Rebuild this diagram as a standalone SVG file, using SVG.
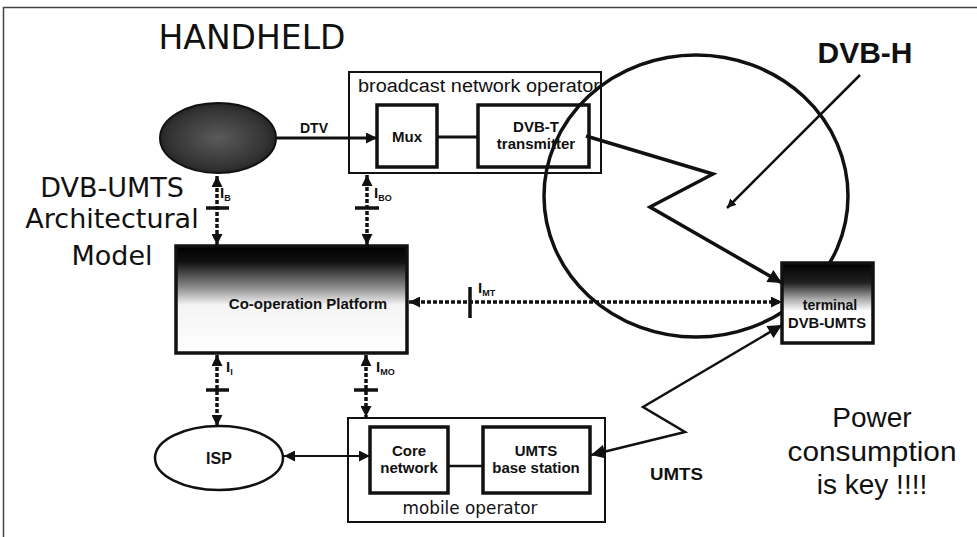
<svg xmlns="http://www.w3.org/2000/svg" width="977" height="537" viewBox="0 0 977 537">
<style>
.frame{stroke:#444;stroke-width:1.5;fill:none}
.title{font-family:"DejaVu Sans",Verdana,sans-serif;fill:#111}
.lbl{font-family:"Liberation Sans",Arial,sans-serif;font-weight:bold;fill:#111}
.reg{font-family:"Liberation Sans",Arial,sans-serif;fill:#111}
.cond{font-family:"DejaVu Sans Condensed","DejaVu Sans",sans-serif;fill:#111}
.outer{fill:#fff;stroke:#111;stroke-width:2}
.inner{fill:#fff;stroke:#111;stroke-width:3.5}
.solid{stroke:#111;fill:none;stroke-linejoin:miter}
.dash{stroke:#111;stroke-width:3.5;stroke-dasharray:4 2;fill:none}
.bar{stroke:#111;stroke-width:3.5}
.sub{font-size:9px}
</style>
<defs>
<marker id="ah" viewBox="0 0 10 10" refX="10" refY="5" markerWidth="11" markerHeight="11" markerUnits="userSpaceOnUse" orient="auto-start-reverse"><path d="M0,0 L10,5 L0,10 z" fill="#111"/></marker>
<marker id="ahL" viewBox="0 0 10 10" refX="10" refY="5" markerWidth="16" markerHeight="14" markerUnits="userSpaceOnUse" orient="auto-start-reverse"><path d="M0,0 L10,5 L0,10 z" fill="#111"/></marker>
<marker id="ahS" viewBox="0 0 10 10" refX="10" refY="5" markerWidth="9" markerHeight="9" markerUnits="userSpaceOnUse" orient="auto"><path d="M0,0 L10,5 L0,10 z" fill="#111"/></marker>
<linearGradient id="coopG" x1="0" y1="0" x2="0" y2="1">
<stop offset="0" stop-color="#000"/><stop offset="0.15" stop-color="#111"/><stop offset="0.38" stop-color="#888"/><stop offset="0.55" stop-color="#f4f4f4"/><stop offset="1" stop-color="#fff"/>
</linearGradient>
<linearGradient id="termG" x1="0" y1="0" x2="0" y2="1">
<stop offset="0" stop-color="#000"/><stop offset="0.25" stop-color="#222"/><stop offset="0.45" stop-color="#aaa"/><stop offset="0.6" stop-color="#fff"/><stop offset="1" stop-color="#fff"/>
</linearGradient>
<radialGradient id="ellG" cx="0.5" cy="0.5" r="0.6">
<stop offset="0" stop-color="#5a5a5a"/><stop offset="0.7" stop-color="#333"/><stop offset="1" stop-color="#151515"/>
</radialGradient>
</defs>
<rect width="977" height="537" fill="#fff"/>
<path class="frame" d="M3.5,537 L3.5,7.5 L977,7.5"/>

<g id="titles">
<text class="title" x="252" y="49" font-size="33" text-anchor="middle">HANDHELD</text>
<text class="title" x="112" y="197" font-size="27" text-anchor="middle">DVB-UMTS</text>
<text class="title" x="112" y="228" font-size="27" text-anchor="middle">Architectural</text>
<text class="title" x="112" y="265" font-size="27" text-anchor="middle">Model</text>
</g>

<g id="broadcast">
<rect class="outer" x="349" y="72" width="252" height="101"/>
<text class="reg" x="358" y="92" font-size="18" textLength="242" lengthAdjust="spacingAndGlyphs">broadcast network operator</text>
</g>
<g id="mux">
<rect class="inner" x="377" y="105" width="60" height="62"/>
<text class="lbl" x="407" y="142" font-size="15" text-anchor="middle">Mux</text>
</g>
<g id="dvbt">
<rect class="inner" x="478" y="105" width="111" height="62"/>
<text class="lbl" x="536" y="132" font-size="15" text-anchor="middle">DVB-T</text>
<text class="lbl" x="536" y="149" font-size="15" text-anchor="middle">transmitter</text>
</g>

<g id="mobile-operator">
<rect class="outer" x="348" y="418" width="257" height="104"/>
<text class="cond" x="470" y="514" font-size="17" text-anchor="middle" textLength="135" lengthAdjust="spacingAndGlyphs">mobile operator</text>
</g>
<g id="core">
<rect class="inner" x="370" y="427" width="78" height="66"/>
<text class="lbl" x="409" y="456" font-size="15" text-anchor="middle">Core</text>
<text class="lbl" x="409" y="473" font-size="15" text-anchor="middle">network</text>
</g>
<g id="umts-bs">
<rect class="inner" x="483" y="427" width="107" height="66"/>
<text class="lbl" x="536" y="456" font-size="15" text-anchor="middle">UMTS</text>
<text class="lbl" x="536" y="473" font-size="15" text-anchor="middle">base station</text>
</g>

<g id="content-provider">
<ellipse cx="218" cy="138" rx="58" ry="35" fill="url(#ellG)" stroke="#111" stroke-width="2"/>
</g>
<g id="isp">
<ellipse cx="219" cy="458" rx="64" ry="32" fill="#fff" stroke="#111" stroke-width="2.5"/>
<text class="lbl" x="219" y="464" font-size="16" text-anchor="middle">ISP</text>
</g>
<g id="coop">
<rect x="176" y="246" width="231" height="107" fill="url(#coopG)" stroke="#111" stroke-width="3.5"/>
<text class="lbl" x="308" y="309" font-size="15" text-anchor="middle">Co-operation Platform</text>
</g>

<g id="dvbh-coverage">
<ellipse cx="696" cy="196" rx="152" ry="141" fill="none" stroke="#111" stroke-width="3.5"/>
</g>

<g id="connectors">
<line class="solid" x1="277" y1="138" x2="377" y2="138" stroke-width="3" marker-end="url(#ah)"/>
<line class="solid" x1="437" y1="137" x2="478" y2="137" stroke-width="3"/>
<line class="dash" x1="217" y1="176" x2="217" y2="245" marker-start="url(#ah)" marker-end="url(#ah)"/>
<line class="bar" x1="206" y1="208" x2="229" y2="208"/>
<line class="dash" x1="367" y1="175" x2="367" y2="245" marker-start="url(#ah)" marker-end="url(#ah)"/>
<line class="bar" x1="355" y1="208" x2="379" y2="208"/>
<line class="dash" x1="217" y1="355" x2="217" y2="426" marker-start="url(#ah)" marker-end="url(#ah)"/>
<line class="bar" x1="206" y1="390" x2="229" y2="390"/>
<line class="dash" x1="366" y1="355" x2="366" y2="417" marker-start="url(#ah)" marker-end="url(#ah)"/>
<line class="bar" x1="354" y1="390" x2="378" y2="390"/>
<line class="dash" x1="409" y1="302" x2="782" y2="302" stroke-width="3" marker-start="url(#ah)" marker-end="url(#ah)"/>
<line class="bar" x1="470" y1="287" x2="470" y2="318"/>
<line class="solid" x1="284" y1="456" x2="370" y2="456" stroke-width="2" marker-start="url(#ah)" marker-end="url(#ah)"/>
<line class="solid" x1="448" y1="466" x2="483" y2="466" stroke-width="2.5"/>
<polyline class="solid" points="586,136 713,174 650,207 782,283" stroke-width="3.5" marker-end="url(#ahL)"/>
<polyline class="solid" points="591,455 685,432 643,407 782,325" stroke-width="2.5" marker-start="url(#ahL)" marker-end="url(#ahL)"/>
<line class="solid" x1="860" y1="75" x2="727" y2="208" stroke-width="2.5" marker-end="url(#ahS)"/>
<text class="lbl" x="300" y="133" font-size="14">DTV</text>
<text class="lbl" x="220" y="198" font-size="15">I<tspan class="sub" dy="3">B</tspan></text>
<text class="lbl" x="374" y="198" font-size="15">I<tspan class="sub" dy="3">BO</tspan></text>
<text class="lbl" x="226" y="372" font-size="15">I<tspan class="sub" dy="3">I</tspan></text>
<text class="lbl" x="376" y="372" font-size="15">I<tspan class="sub" dy="3">MO</tspan></text>
<text class="lbl" x="478" y="293" font-size="15">I<tspan class="sub" dy="3">MT</tspan></text>
<text class="lbl" x="650" y="480" font-size="16" textLength="53" lengthAdjust="spacingAndGlyphs">UMTS</text>
</g>

<g id="terminal">
<rect x="782" y="263" width="91" height="80" fill="url(#termG)" stroke="#111" stroke-width="3.5"/>
<text class="lbl" x="830" y="310" font-size="14" text-anchor="middle">terminal</text>
<text class="lbl" x="827" y="328" font-size="14" text-anchor="middle" textLength="78" lengthAdjust="spacingAndGlyphs">DVB-UMTS</text>
</g>

<g id="notes">
<text class="lbl" x="865" y="63" font-size="30" text-anchor="middle">DVB-H</text>
<text class="reg" x="872" y="427" font-size="28" text-anchor="middle">Power</text>
<text class="reg" x="872" y="461" font-size="28" text-anchor="middle" textLength="169" lengthAdjust="spacingAndGlyphs">consumption</text>
<text class="reg" x="872" y="494" font-size="28" text-anchor="middle">is key !!!!</text>
</g>
</svg>
